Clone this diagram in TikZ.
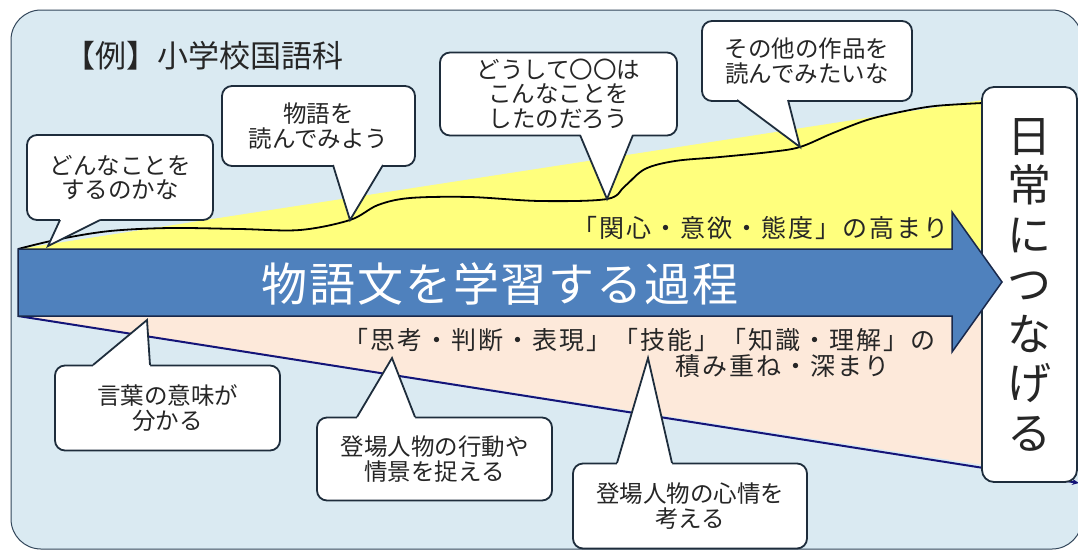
\documentclass[tikz,border=0pt]{standalone}
\usepackage{fontspec}
\newfontfamily\jp{Noto Sans CJK JP}
\newfontfamily\jpls[LetterSpace=4]{Noto Sans CJK JP}
\newfontfamily\jplt[LetterSpace=8]{Noto Sans CJK JP}
\usetikzlibrary{arrows.meta}
\definecolor{bgblue}{RGB}{218,234,242}
\definecolor{bgbord}{RGB}{50,70,90}
\definecolor{yel}{RGB}{255,255,125}
\definecolor{peach}{RGB}{253,233,218}
\definecolor{navy}{RGB}{20,20,120}
\definecolor{arrfill}{RGB}{79,129,189}
\definecolor{arrbord}{RGB}{25,40,75}
\definecolor{cbord}{RGB}{30,45,60}
\definecolor{txt}{RGB}{38,38,38}
\tikzset{
  cbox/.style={draw=cbord, line width=1.8pt, fill=white, rounded corners=10pt, inner sep=0pt, align=center, text=txt, font=\jp\fontsize{23.5}{24.5}\selectfont},
  tailline/.style={draw=cbord, line width=1.8pt},
  lbl/.style={text=txt, inner sep=0pt, font=\jplt\fontsize{25}{27}\selectfont},
  wave/.style={draw=black, line width=1.8pt},
  navyline/.style={draw=navy, line width=2pt},
  arrowshape/.style={fill=arrfill, draw=arrbord, line width=1.5pt, line join=miter},
}
\begin{document}
\begin{tikzpicture}[x=1pt,y=-1pt]
\useasboundingbox (0,0) rectangle (1078,550);
\fill[white] (0,0) rectangle (1078,550);
% background panel
\draw[draw=bgbord, line width=1pt, fill=bgblue, rounded corners=30pt] (11,10) rectangle (1082,549);
% yellow growth region
\fill[yel] (18,249) -- (983,100) -- (983,249) -- cycle;
% peach region
\fill[peach] (18,316) -- (983,316) -- (983,465) -- cycle;
\draw[navyline, -{Stealth[length=7pt,width=6pt]}] (18,316) -- (1079,483);
% wave
\draw[wave] plot[smooth, tension=0.55] coordinates {(18,249) (60,239) (110,231) (170,228) (240,229) (300,230) (350,220) (378,205) (410,198) (470,197) (540,201) (607,199) (625,186) (645,169) (675,161) (720,157) (770,152) (800,147) (833,133) (867,120) (900,112) (935,106) (983,103)};

% callout 1
\node[cbox, minimum width=186pt, minimum height=85pt] (c1) at (120,177.5) {どんなことを\\するのかな};
\fill[white] (60,216) -- (60,220) -- (48,246) -- (100,220) -- (100,216) -- cycle;
\draw[tailline] (60,220) -- (48,246) -- (100,220);
% callout 2
\node[cbox, minimum width=193pt, minimum height=80pt] (c2) at (318.5,126) {物語を\\読んでみよう};
\fill[white] (333,161) -- (333,165) -- (350,220) -- (383,165) -- (383,161) -- cycle;
\draw[tailline] (333,165) -- (350,220) -- (383,165);
% callout 3
\node[cbox, minimum width=237pt, minimum height=83pt] (c3) at (558.5,94) {どうして〇〇は\\こんなことを\\したのだろう};
\fill[white] (580,131) -- (580,135) -- (607,199) -- (633,135) -- (633,131) -- cycle;
\draw[tailline] (580,135) -- (607,199) -- (633,135);
% callout 4
\node[cbox, minimum width=210pt, minimum height=80pt] (c4) at (807,61) {その他の作品を\\読んでみたいな};
\fill[white] (737,96) -- (737,100) -- (800,147) -- (788,100) -- (788,96) -- cycle;
\draw[tailline] (737,100) -- (800,147) -- (788,100);
% callout 5
\node[cbox, minimum width=225pt, minimum height=85pt] (c5) at (167.5,408) {言葉の意味が\\分かる};
\fill[white] (93,369) -- (93,365) -- (147,320) -- (150,365) -- (150,369) -- cycle;
\draw[tailline] (93,365) -- (147,320) -- (150,365);
% callout 6
\node[cbox, minimum width=235pt, minimum height=83pt] (c6) at (434.5,459) {登場人物の行動や\\情景を捉える};
\fill[white] (357,421) -- (357,417) -- (392,358) -- (415,417) -- (415,421) -- cycle;
\draw[tailline] (357,417) -- (392,358) -- (415,417);
% callout 7
\node[cbox, minimum width=234pt, minimum height=85pt] (c7) at (690,506) {登場人物の心情を\\考える};
\fill[white] (617,467) -- (617,463) -- (648,358) -- (672,463) -- (672,467) -- cycle;
\draw[tailline] (617,463) -- (648,358) -- (672,463);

% goal box
\node[draw=cbord, line width=1.8pt, fill=white, rounded corners=12pt, minimum width=95pt, minimum height=395pt, inner sep=0pt, align=center, text=txt, font=\jp\fontsize{44}{49.5}\selectfont] (goal) at (1029.5,284.5) {日\\常\\に\\つ\\な\\げ\\る};

% main arrow
\draw[arrowshape] (18,249) -- (952,249) -- (952,212) -- (1002,282) -- (952,352) -- (952,316) -- (18,316) -- cycle;
\node[text=white, inner sep=0pt, font=\jpls\fontsize{46}{48}\selectfont] (main) at (500,284) {物語文を学習する過程};

% labels
\node[inner sep=0pt, anchor=west, text=txt, font=\jp\fontsize{31}{34}\selectfont] (title) at (64,56) {【例】小学校国語科};
\node[lbl, anchor=east] (kanshin) at (949,228) {「関心・意欲・態度」の高まり};
\node[lbl, anchor=west] (shikou) at (343,340) {「思考・判断・表現」「技能」「知識・理解」の};
\node[lbl] (tsumi) at (782,366) {積み重ね・深まり};
\end{tikzpicture}
\end{document}
